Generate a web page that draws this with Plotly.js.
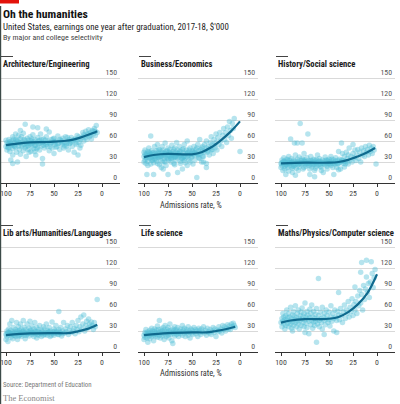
<!DOCTYPE html>
<html><head><meta charset="utf-8">
<script src="https://cdn.plot.ly/plotly-3.0.1.min.js"></script>
<style>html,body{margin:0;padding:0;background:#fff}#chart{width:400px;height:404px}</style>
</head><body><div id="chart"></div>
<script>
var panelTitles = ["Architecture/Engineering","Business/Economics","History/Social science","Lib arts/Humanities/Languages","Life science","Maths/Physics/Computer science"];
var xTicks = [100,75,50,25,0];
var yTicks = [0,30,60,90,120,150];

var archPts = [[100,52],[99,58],[99,47],[98,55],[97,62],[97,50],[96,45],[95,57],[95,53],[94,60],[93,49],[93,66],[92,54],[91,58],[90,51],[90,62],[89,44],[89,56],[88,60],[87,53],[87,68],[86,48],[85,57],[85,63],[84,52],[83,59],[82,71],[82,46],[81,55],[80,61],[80,50],[79,38],[79,57],[78,64],[77,53],[77,48],[76,58],[75,66],[75,55],[74,45],[74,60],[73,52],[72,69],[72,57],[71,49],[70,62],[70,54],[69,40],[68,58],[67,65],[67,51],[66,56],[65,47],[65,61],[64,70],[63,53],[62,58],[62,35],[61,63],[62,27],[60,50],[59,57],[58,66],[57,52],[56,60],[55,46],[55,73],[54,56],[53,62],[52,50],[51,58],[50,64],[50,42],[49,55],[48,60],[47,52],[46,67],[45,57],[44,48],[43,61],[42,55],[41,64],[40,50],[39,58],[38,66],[37,53],[36,60],[35,47],[34,62],[33,57],[32,65],[31,52],[30,60],[29,44],[28,63],[27,57],[26,68],[25,40],[25,62],[24,58],[23,50],[22,54],[21,65],[20,72],[19,60],[18,67],[17,74],[16,62],[15,70],[14,76],[13,66],[12,72],[11,63],[10,75],[9,70],[8,78],[7,68],[6,82],[5,72],[95,33],[93,28],[85,41],[88,30],[93,40],[76,44],[70,45],[100,61],[97,56],[92,63],[84,66],[78,56],[73,63],[68,49],[63,62],[58,55],[53,58],[48,51],[42,60],[37,56],[32,59],[27,55],[22,62],[17,65],[12,68],[7,74],[80,84],[72,80],[67,79],[58,77],[85,75],[90,70],[98,51],[96,59],[94,55],[91,52],[89,61],[86,58],[83,54],[81,62],[79,52],[76,61],[74,56],[71,59],[69,54],[66,60],[64,57],[61,54],[59,61],[57,58],[54,52],[51,63],[49,59],[46,56],[44,62],[41,57],[39,53],[36,65],[34,56],[29,62],[24,66],[19,69],[14,70],[9,74]];
var busPts = [[100,38],[100,44],[99,33],[99,47],[98,40],[98,28],[97,42],[97,36],[97,12],[96,45],[96,31],[95,39],[95,50],[94,35],[94,43],[93,41],[93,67],[93,27],[92,37],[92,46],[91,33],[91,40],[90,44],[90,12],[90,29],[89,38],[89,52],[88,35],[88,42],[87,46],[87,31],[86,39],[86,55],[85,36],[85,43],[84,48],[84,26],[83,41],[83,34],[82,45],[82,38],[81,52],[81,30],[80,40],[80,47],[79,35],[79,43],[78,38],[78,57],[77,42],[77,25],[76,46],[76,36],[75,40],[75,12],[75,50],[74,33],[74,44],[73,38],[73,48],[72,42],[72,30],[71,36],[71,54],[70,45],[70,39],[69,28],[69,42],[68,37],[68,50],[67,44],[67,33],[66,40],[66,58],[65,15],[65,47],[65,36],[64,42],[63,38],[63,52],[62,45],[62,31],[61,40],[60,48],[60,35],[59,43],[58,38],[58,55],[57,42],[57,29],[56,47],[55,37],[55,60],[54,44],[53,40],[53,33],[52,50],[51,42],[50,38],[50,46],[49,27],[48,44],[48,52],[47,39],[46,48],[45,8],[45,42],[44,55],[43,36],[43,46],[42,62],[41,42],[40,30],[40,50],[39,45],[38,38],[37,55],[36,47],[35,22],[35,60],[34,44],[33,52],[32,40],[31,58],[30,47],[30,66],[29,55],[28,42],[27,62],[26,50],[25,58],[25,70],[24,47],[23,65],[22,55],[21,72],[20,60],[19,52],[18,68],[17,78],[16,62],[15,72],[14,58],[13,80],[12,68],[11,88],[10,75],[9,64],[8,85],[7,78],[6,92],[0,45],[35,28],[55,25],[80,20],[60,20],[98,36],[94,40],[88,38],[84,37],[79,40],[74,39],[69,36],[64,39],[59,37],[54,40],[49,41],[44,40],[39,38],[99,41],[97,39],[95,44],[93,36],[91,43],[89,34],[87,40],[85,47],[83,38],[81,43],[79,31],[77,45],[75,35],[73,43],[71,40],[69,48],[67,38],[65,42],[63,45],[61,35],[59,49],[57,36],[55,43],[53,47],[51,36],[49,45],[47,43],[45,50],[43,41],[41,48],[39,52],[37,44],[35,50],[33,46],[31,50],[29,48],[27,54],[100,30],[96,25],[92,32],[86,28],[82,22],[78,30],[72,35],[68,26],[62,28],[58,32],[52,30],[47,33],[42,35],[38,30]];
var histPts = [[100,28],[100,22],[99,33],[99,25],[98,30],[98,18],[97,27],[97,36],[96,24],[96,31],[95,29],[95,12],[94,34],[94,26],[93,30],[93,22],[92,28],[92,38],[91,25],[91,32],[90,63],[90,29],[89,23],[89,35],[88,30],[88,15],[87,27],[87,33],[86,57],[86,25],[85,31],[85,40],[84,28],[84,21],[83,57],[83,34],[82,26],[82,30],[81,37],[81,23],[80,85],[80,29],[79,32],[79,26],[78,57],[78,35],[77,28],[77,20],[76,31],[76,42],[75,27],[75,33],[74,24],[74,30],[73,36],[72,70],[72,28],[71,25],[71,32],[70,30],[70,12],[69,27],[69,38],[68,23],[68,31],[67,29],[66,34],[66,26],[65,30],[65,18],[64,28],[63,33],[63,24],[62,40],[62,29],[61,26],[60,31],[60,35],[59,27],[58,30],[58,22],[57,33],[56,28],[56,15],[55,31],[54,26],[54,37],[53,29],[52,32],[52,24],[51,28],[50,34],[50,27],[49,30],[48,25],[48,38],[47,31],[46,28],[45,33],[45,12],[44,27],[43,36],[42,29],[42,22],[41,32],[40,45],[40,28],[39,34],[38,30],[38,20],[37,57],[36,32],[36,42],[35,28],[34,38],[33,31],[32,44],[31,35],[30,27],[30,40],[29,50],[28,33],[27,38],[26,30],[25,55],[25,42],[24,36],[23,47],[22,32],[21,40],[20,48],[19,35],[18,44],[17,30],[16,50],[15,40],[14,46],[13,38],[12,52],[11,44],[10,48],[9,40],[8,54],[7,45],[6,50],[5,42],[4,52],[3,47],[1,27],[65,9],[85,11],[99,29],[97,31],[95,26],[93,33],[91,28],[89,30],[87,24],[85,27],[83,30],[81,28],[79,29],[77,33],[75,30],[73,27],[71,29],[69,32],[67,26],[65,33],[63,29],[61,31],[59,24],[57,29],[55,27],[53,33],[51,31],[49,27],[47,34],[45,29],[43,31],[41,27],[39,30],[37,33],[35,31],[33,27],[31,30],[96,20],[92,17],[88,21],[82,18],[76,22],[70,20],[64,21],[58,18],[52,20],[46,22],[40,19],[34,23]];
var libPts = [[100,25],[100,18],[99,30],[99,22],[98,28],[98,15],[97,33],[97,24],[96,27],[96,40],[95,21],[95,31],[94,26],[94,45],[93,29],[93,19],[92,35],[92,24],[91,28],[90,32],[90,22],[89,42],[89,26],[88,30],[88,18],[87,27],[87,36],[86,24],[86,31],[85,28],[85,40],[84,22],[84,33],[83,26],[82,30],[82,45],[81,24],[81,35],[80,28],[80,19],[79,32],[78,26],[78,40],[77,29],[76,23],[76,34],[75,27],[75,44],[74,31],[73,25],[73,37],[72,28],[71,22],[71,33],[70,30],[70,42],[69,26],[68,35],[68,20],[67,29],[66,32],[66,24],[65,38],[64,27],[63,31],[63,22],[62,29],[61,36],[60,26],[60,33],[59,28],[58,40],[57,24],[57,31],[56,28],[55,35],[54,22],[54,30],[53,27],[52,43],[51,29],[50,33],[50,24],[49,27],[48,38],[47,30],[46,25],[45,58],[45,32],[44,28],[43,35],[42,23],[41,30],[40,42],[39,27],[38,33],[37,29],[36,38],[35,25],[34,31],[33,36],[32,28],[31,42],[30,30],[29,34],[28,26],[27,38],[26,32],[25,45],[24,29],[23,36],[22,50],[21,33],[20,40],[19,53],[18,30],[17,38],[16,44],[15,34],[14,47],[13,40],[12,36],[11,43],[10,38],[9,32],[8,42],[7,36],[5,75],[99,26],[97,28],[95,25],[93,27],[91,24],[89,29],[87,23],[85,25],[83,29],[81,27],[79,24],[77,26],[75,30],[73,28],[71,26],[69,29],[67,25],[65,28],[63,26],[61,24],[59,25],[57,27],[55,29],[53,24],[51,26],[49,30],[47,27],[45,25],[43,28],[41,26]];
var lifePts = [[100,24],[100,18],[99,28],[99,21],[98,26],[98,32],[97,20],[97,25],[96,29],[96,14],[95,23],[95,27],[94,31],[94,19],[93,25],[93,28],[92,22],[92,34],[91,26],[91,30],[90,24],[90,16],[89,29],[89,33],[88,22],[88,27],[87,31],[87,25],[86,37],[86,21],[85,28],[85,32],[84,45],[84,24],[83,29],[83,20],[82,33],[82,26],[81,30],[81,23],[80,35],[80,27],[79,31],[79,18],[78,25],[78,38],[77,29],[77,22],[76,32],[76,27],[75,24],[75,35],[74,30],[74,20],[73,27],[73,40],[72,25],[72,31],[71,28],[71,16],[70,12],[70,33],[69,26],[69,30],[68,23],[68,36],[67,28],[67,32],[66,25],[66,30],[65,35],[64,27],[64,22],[63,30],[62,33],[62,26],[61,29],[60,24],[60,38],[59,31],[58,27],[58,34],[57,22],[56,29],[56,32],[55,27],[54,36],[54,24],[53,30],[52,28],[52,20],[51,33],[50,27],[50,31],[49,25],[48,35],[47,29],[46,26],[46,32],[45,30],[44,22],[43,34],[42,28],[42,31],[41,25],[40,33],[39,29],[38,36],[37,27],[36,31],[35,24],[34,34],[33,29],[32,27],[31,32],[30,25],[29,30],[28,35],[27,28],[26,33],[25,22],[24,31],[23,29],[22,36],[21,30],[20,33],[19,27],[18,38],[17,32],[16,36],[15,30],[14,34],[13,39],[12,33],[11,37],[10,32],[9,40],[8,36],[7,41],[6,38],[5,35]];
var mathPts = [[100,42],[99,48],[99,36],[98,44],[98,55],[97,40],[97,50],[96,33],[96,46],[95,52],[95,38],[94,45],[94,60],[93,41],[93,49],[92,36],[92,55],[91,44],[91,50],[90,40],[90,64],[89,47],[89,34],[88,53],[88,43],[87,58],[87,38],[86,46],[86,51],[85,42],[85,66],[84,49],[84,36],[83,55],[83,44],[82,40],[82,60],[81,48],[81,33],[80,52],[80,45],[79,57],[79,38],[78,47],[78,63],[77,42],[77,51],[76,36],[76,55],[75,46],[75,70],[74,41],[74,50],[73,58],[73,35],[72,47],[72,53],[71,26],[71,44],[70,61],[70,49],[69,39],[69,55],[68,45],[68,67],[67,50],[67,34],[66,43],[66,58],[65,48],[65,38],[64,54],[64,44],[63,14],[63,62],[62,47],[62,40],[61,105],[61,52],[60,45],[60,36],[59,57],[58,48],[58,42],[57,64],[57,33],[56,50],[55,45],[55,55],[54,39],[53,60],[53,47],[52,52],[51,42],[50,57],[50,46],[49,37],[48,66],[48,50],[47,44],[46,55],[45,48],[45,30],[44,60],[43,50],[42,45],[41,58],[40,53],[40,85],[39,46],[38,62],[37,52],[36,42],[35,57],[34,67],[33,48],[32,60],[31,55],[30,72],[29,50],[28,64],[27,58],[26,76],[25,52],[24,68],[23,93],[23,60],[22,72],[21,55],[20,80],[19,66],[18,88],[17,114],[17,70],[16,128],[16,82],[15,60],[14,95],[13,75],[12,90],[11,131],[11,107],[10,85],[9,98],[8,78],[7,100],[6,129],[5,112],[4,92],[3,106],[2,118],[42,28],[55,25],[75,28],[88,30]];

var archCurveX = [100,90,75,60,50,40,30,20,10,5];
var archCurveY = [54,56,58,58.5,59,60,62,66,71,74];
var busCurveX = [100,90,75,60,50,40,30,20,10,0];
var busCurveY = [37,40,41.5,41,41,44,51,61,73,88];
var histCurveX = [100,75,50,40,30,20,10,2];
var histCurveY = [28,29,29,30,33,38,44,50];
var libCurveX = [100,75,50,35,25,15,5];
var libCurveY = [24,26.5,27,27,29.5,33,39];
var lifeCurveX = [100,75,50,35,25,15,5];
var lifeCurveY = [24,27,28,28,30,32.5,36];
var mathCurveX = [100,90,75,60,50,40,30,20,10,0];
var mathCurveY = [42,45,47,47,47.5,50,57,68,84,111];

var FONT = "'Liberation Sans Narrow', 'Roboto Condensed', Roboto, sans-serif";
var ctx = document.createElement('canvas').getContext('2d');
function fit(text, weight, target) {
  ctx.font = weight + ' 100px ' + FONT;
  return Math.round(100 * target / ctx.measureText(text).width * 10) / 10;
}
var W = 400, H = 404;
var pts = [archPts, busPts, histPts, libPts, lifePts, mathPts];
var curves = [[archCurveX,archCurveY],[busCurveX,busCurveY],[histCurveX,histCurveY],[libCurveX,libCurveY],[lifeCurveX,lifeCurveY],[mathCurveX,mathCurveY]];
var colLeft = [0, 138, 275];
var rowBottom = [183, 352];
var PW = 120, YS = 0.7, YMAX = 153;

var titleSize = Math.min(fit(panelTitles[0], 'bold', 92), fit(panelTitles[5], 'bold', 116));
var tickSize = fit('150', 'normal', 11.5);
var axSize = fit('Admissions rate, %', 'normal', 62);

var data = [], layout = {
  width: W, height: H, margin: {l:0,r:0,t:0,b:0}, showlegend: false,
  paper_bgcolor: '#fff', plot_bgcolor: '#fff',
  font: {family: FONT, size: 9, color: '#555'},
  annotations: [], shapes: []
};

for (var i = 0; i < 6; i++) {
  var r = Math.floor(i/3), c = i % 3;
  var n = i === 0 ? '' : String(i+1);
  var xa = 'x' + n, ya = 'y' + n;
  data.push({type:'scatter', mode:'markers', x: pts[i].map(function(p){return p[0];}), y: pts[i].map(function(p){return p[1];}),
    xaxis: xa, yaxis: ya, marker:{size:5.5, color:'rgba(80,190,214,0.42)', line:{width:0}}, hoverinfo:'skip'});
  data.push({type:'scatter', mode:'lines', x: curves[i][0], y: curves[i][1], xaxis: xa, yaxis: ya,
    line:{color:'#0f6a8e', width:2.2, shape:'spline', smoothing:1}, hoverinfo:'skip'});
  var x0 = colLeft[c], yb = rowBottom[r], yt = yb - YMAX*YS;
  layout['xaxis'+n] = {domain:[x0/W, (x0+PW)/W], range:[106.25,-18.75], anchor: ya,
    tickvals: xTicks, ticks:'outside', ticklen:3, tickcolor:'#333', showline:true, linecolor:'#333', linewidth:1,
    showgrid:false, zeroline:false, ticklabeloverflow:'allow', tickfont:{size:tickSize, color:'#444', family:FONT}, fixedrange:true};
  layout['yaxis'+n] = {domain:[1-yb/H, 1-yt/H], range:[0,YMAX], anchor: xa, side:'right',
    tickvals: yTicks, ticks:'', ticklabelposition:'inside top', ticklabeloverflow:'allow', showgrid:true, gridcolor:'#d9d9d9', gridwidth:1,
    zeroline:false, showline:false, tickfont:{size:tickSize, color:'#555', family:FONT}, fixedrange:true};
  layout.annotations.push({xref:'paper', yref:'paper', x:(x0+1)/W, y:1-(r===0?64:233)/H, xanchor:'left', yanchor:'middle',
    text: panelTitles[i], showarrow:false, font:{family:FONT, size:titleSize, color:'#1a1a1a', weight:'bold'}});
  layout.shapes.push({type:'line', xref:'paper', yref:'paper', x0:(x0+1)/W, x1:(x0+13)/W, y0:1-(r===0?56.5:225.5)/H, y1:1-(r===0?56.5:225.5)/H,
    line:{color:'#444', width:1}});
  if (c === 1) {
    layout.annotations.push({xref:'paper', yref:'paper', x:(x0+53)/W, y:1-(r===0?205:373)/H, xanchor:'center', yanchor:'middle',
      text:'Admissions rate, %', showarrow:false, font:{family:FONT, size:axSize, color:'#333'}});
  }
}
layout.shapes.push({type:'rect', xref:'paper', yref:'paper', x0:0, x1:19/W, y0:1-3.5/H, y1:1, fillcolor:'#e3120b', line:{width:0}});
layout.shapes.push({type:'line', xref:'paper', yref:'paper', x0:0.6/W, x1:0.6/W, y0:0, y1:1-6/H, line:{color:'#3c4a48', width:1.2}});
layout.annotations.push({xref:'paper', yref:'paper', x:1/W, y:1-13.5/H, xanchor:'left', yanchor:'middle', showarrow:false,
  text:'Oh the humanities', font:{family:FONT, size:fit('Oh the humanities','bold',85), color:'#111', weight:'bold'}});
layout.annotations.push({xref:'paper', yref:'paper', x:1/W, y:1-27.5/H, xanchor:'left', yanchor:'middle', showarrow:false,
  text:"United States, earnings one year after graduation, 2017-18, $'000", font:{family:FONT, size:fit("United States, earnings one year after graduation, 2017-18, $'000",'normal',226), color:'#222'}});
layout.annotations.push({xref:'paper', yref:'paper', x:1/W, y:1-38/H, xanchor:'left', yanchor:'middle', showarrow:false,
  text:'By major and college selectivity', font:{family:FONT, size:fit('By major and college selectivity','normal',99), color:'#444'}});
layout.annotations.push({xref:'paper', yref:'paper', x:1/W, y:1-384.5/H, xanchor:'left', yanchor:'middle', showarrow:false,
  text:'Source: Department of Education', font:{family:FONT, size:fit('Source: Department of Education','normal',89), color:'#777'}});
layout.annotations.push({xref:'paper', yref:'paper', x:1/W, y:1-398/H, xanchor:'left', yanchor:'middle', showarrow:false,
  text:'The Economist', font:{family:'Liberation Serif, serif', size:8.5, color:'#888'}});

Plotly.newPlot('chart', data, layout, {staticPlot:true, displayModeBar:false});
</script></body></html>
